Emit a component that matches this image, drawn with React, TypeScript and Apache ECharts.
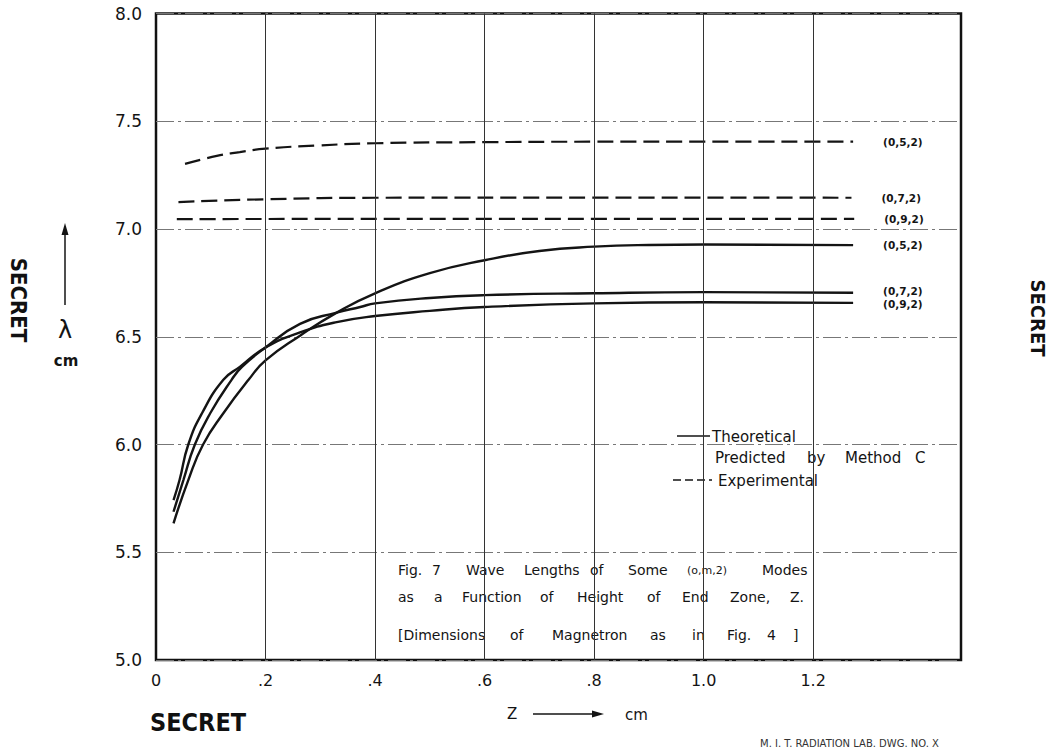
import React, { useEffect, useRef } from "react";
import * as echarts from "echarts";

// ---------- data ----------
const xTickValues = [0, 0.2, 0.4, 0.6, 0.8, 1.0, 1.2];
const xTickLabels = ["0", ".2", ".4", ".6", ".8", "1.0", "1.2"];
const xGridValues = [0.2, 0.4, 0.6, 0.8, 1.0, 1.2];

// Theoretical (solid)
const theo052 = [
  [0.032, 5.634], [0.059, 5.835], [0.086, 6.0], [0.123, 6.145], [0.169, 6.3],
  [0.2, 6.39], [0.263, 6.505], [0.33, 6.612], [0.402, 6.704], [0.5, 6.795],
  [0.6, 6.855], [0.7, 6.898], [0.8, 6.918], [0.9, 6.926], [1.0, 6.928], [1.273, 6.925],
];
const theo072 = [
  [0.032, 5.688], [0.05, 5.835], [0.071, 6.0], [0.099, 6.145], [0.138, 6.3],
  [0.157, 6.36], [0.2, 6.45], [0.263, 6.56], [0.33, 6.612], [0.373, 6.638],
  [0.4, 6.655], [0.5, 6.68], [0.6, 6.693], [0.8, 6.702], [1.0, 6.707], [1.273, 6.704],
];
const theo092 = [
  [0.032, 5.742], [0.043, 5.835], [0.059, 6.0], [0.084, 6.145], [0.123, 6.3],
  [0.153, 6.36], [0.2, 6.45], [0.263, 6.52], [0.33, 6.568], [0.4, 6.596],
  [0.5, 6.62], [0.6, 6.638], [0.8, 6.655], [1.0, 6.66], [1.273, 6.657],
];
// Experimental (dashed)
const exp052 = [
  [0.053, 7.302], [0.111, 7.339], [0.153, 7.357], [0.2, 7.373], [0.293, 7.387],
  [0.4, 7.398], [0.6, 7.403], [0.8, 7.405], [1.0, 7.405], [1.273, 7.405],
];
const exp072 = [
  [0.041, 7.125], [0.2, 7.138], [0.4, 7.145], [0.8, 7.146], [1.27, 7.145],
];
const exp092 = [
  [0.038, 7.046], [0.6, 7.047], [1.275, 7.047],
];

const modeLabels = ["(0,5,2)", "(0,7,2)", "(0,9,2)"];

const FONT = "DejaVu Sans";
const INK = "#141414";

function captionWords(words: [string, number][], y: number, size = 14) {
  return words.map(([t, x]) => ({
    type: "text",
    x,
    y,
    style: {
      text: t,
      fill: INK,
      font: `${t.startsWith("(") ? 11 : size}px "${FONT}"`,
      textVerticalAlign: "middle",
      textAlign: "left",
    },
    silent: true,
  }));
}

export default function App() {
  const ref = useRef<HTMLDivElement>(null);

  useEffect(() => {
    if (!ref.current) return;
    const chart = echarts.init(ref.current, undefined, { renderer: "svg" });

    const solidStyle = { color: INK, width: 2.4, type: "solid" as const };
    const dashStyle = { color: INK, width: 2.2, type: [16, 7] as any };
    const endLabel = (txt: string, dy = 0) => ({
      show: true,
      formatter: () => txt,
      distance: 30,
      offset: [0, dy],
      color: INK,
      fontFamily: FONT,
      fontWeight: "bold" as const,
      fontSize: 10.5,
      lineHeight: 11,
    });

    const mkSeries = (name: string, data: number[][], dashed: boolean, label: string, dy = 0, extra: any = {}) => ({
      name,
      type: "line",
      data,
      smooth: 0.5,
      showSymbol: false,
      symbol: "none",
      lineStyle: dashed ? dashStyle : solidStyle,
      endLabel: endLabel(label, dy),
      silent: true,
      ...extra,
    });

    const option: any = {
      animation: false,
      backgroundColor: "#ffffff",
      grid: {
        left: 156,
        right: 90,
        top: 13.5,
        bottom: 90,
        show: true,
        borderColor: "#111",
        borderWidth: 2.5,
        backgroundColor: "transparent",
      },
      xAxis: {
        type: "value",
        min: 0,
        max: 1.47,
        interval: 0.2,
        axisLine: { show: false },
        axisTick: { show: false },
        splitLine: { show: false },
        axisLabel: {
          margin: 12,
          fontFamily: FONT,
          fontSize: 16,
          color: INK,
          showMaxLabel: false,
          formatter: (v: number) => {
            const i = xTickValues.findIndex((t) => Math.abs(t - v) < 1e-6);
            return i >= 0 ? xTickLabels[i] : "";
          },
        },
      },
      yAxis: {
        type: "value",
        min: 5,
        max: 8,
        interval: 0.5,
        axisLine: { show: false },
        axisTick: { show: false },
        splitLine: {
          show: true,
          lineStyle: { color: "#777", width: 1, type: [18, 4, 3, 4] },
        },
        axisLabel: {
          margin: 14,
          fontFamily: FONT,
          fontSize: 17,
          color: INK,
          formatter: (v: number) => v.toFixed(1),
        },
      },
      series: [
        mkSeries("exp052", exp052, true, modeLabels[0]),
        mkSeries("exp072", exp072, true, modeLabels[1]),
        mkSeries("exp092", exp092, true, modeLabels[2], 0, {
          markLine: {
            silent: true,
            symbol: ["none", "none"],
            label: { show: false },
            lineStyle: { color: "#333", width: 1, type: "solid" },
            data: xGridValues.map((v) => ({ xAxis: v })),
          },
        }),
        mkSeries("theo052", theo052, false, modeLabels[0]),
        mkSeries("theo072", theo072, false, modeLabels[1], -1.5),
        mkSeries("theo092", theo092, false, modeLabels[2], 1.5),
      ],
      graphic: [
        // legend
        { type: "line", shape: { x1: 677, y1: 436, x2: 710, y2: 436 }, style: { stroke: INK, lineWidth: 1.5 }, silent: true },
        { type: "line", shape: { x1: 673, y1: 480, x2: 712, y2: 480 }, style: { stroke: INK, lineWidth: 1.5, lineDash: [8, 4] }, silent: true },
        ...captionWords([["Theoretical", 712]], 437, 15),
        ...captionWords([["Predicted", 715], ["by", 807], ["Method", 845], ["C", 915]], 458, 15),
        ...captionWords([["Experimental", 718]], 481, 15),
        // caption
        ...captionWords([["Fig.", 398], ["7", 432], ["Wave", 466], ["Lengths", 524], ["of", 590], ["Some", 628], ["(o,m,2)", 687], ["Modes", 762]], 570),
        ...captionWords([["as", 398], ["a", 434], ["Function", 462], ["of", 540], ["Height", 577], ["of", 647], ["End", 682], ["Zone,", 730], ["Z.", 790]], 597),
        ...captionWords([["[Dimensions", 398], ["of", 510], ["Magnetron", 552], ["as", 650], ["in", 692], ["Fig.", 727], ["4", 767], ["]", 793]], 635),
        // y-axis title
        { type: "line", shape: { x1: 65, y1: 305, x2: 65, y2: 232 }, style: { stroke: INK, lineWidth: 1.5 }, silent: true },
        { type: "polygon", shape: { points: [[65, 223], [61.5, 235], [68.5, 235]] }, style: { fill: INK }, silent: true },
        { type: "text", x: 65, y: 330, style: { text: "λ", fill: INK, font: `24px "${FONT}"`, textAlign: "center", textVerticalAlign: "middle" }, silent: true },
        { type: "text", x: 66, y: 361, style: { text: "cm", fill: INK, font: `bold 15px "${FONT}"`, textAlign: "center", textVerticalAlign: "middle" }, silent: true },
        // x-axis title
        { type: "text", x: 507, y: 714, style: { text: "Z", fill: INK, font: `15px "${FONT}"`, textAlign: "left", textVerticalAlign: "middle" }, silent: true },
        { type: "line", shape: { x1: 533, y1: 714, x2: 596, y2: 714 }, style: { stroke: INK, lineWidth: 1.5 }, silent: true },
        { type: "polygon", shape: { points: [[604, 714], [592, 710.5], [592, 717.5]] }, style: { fill: INK }, silent: true },
        { type: "text", x: 625, y: 715, style: { text: "cm", fill: INK, font: `15px "${FONT}"`, textAlign: "left", textVerticalAlign: "middle" }, silent: true },
        // SECRET stamps
        { type: "text", x: 150, y: 722, style: { text: "SECRET", fill: "#111", font: `bold 25px "DejaVu Sans Condensed", "${FONT}"`, textAlign: "left", textVerticalAlign: "middle" }, silent: true },
        { type: "text", x: 18, y: 300, rotation: -Math.PI / 2, style: { text: "SECRET", fill: "#111", font: `bold 22px "DejaVu Sans Condensed", "${FONT}"`, textAlign: "center", textVerticalAlign: "middle" }, silent: true },
        { type: "text", x: 1038, y: 318, rotation: -Math.PI / 2, style: { text: "SECRET", fill: "#111", font: `bold 20px "DejaVu Sans Condensed", "${FONT}"`, textAlign: "center", textVerticalAlign: "middle" }, silent: true },
        // drawing number
        { type: "text", x: 760, y: 743, style: { text: "M. I. T. RADIATION LAB. DWG. NO. X", fill: "#333", font: `10px "${FONT}"`, textAlign: "left", textVerticalAlign: "middle" }, silent: true },
      ],
    };

    chart.setOption(option);
    return () => chart.dispose();
  }, []);

  return (
    <div
      ref={ref}
      style={{ position: "fixed", left: 0, top: 0, width: 1051, height: 750, background: "#fff" }}
    />
  );
}
